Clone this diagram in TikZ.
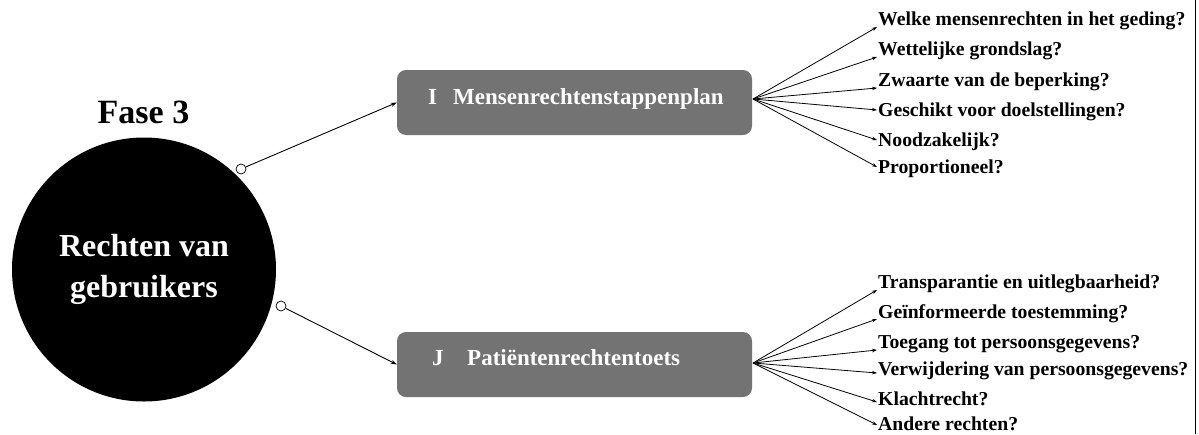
\documentclass[tikz,border=0pt]{standalone}
\usepackage{fontspec}
\setmainfont{Liberation Serif}
\usetikzlibrary{arrows.meta,calc}
\definecolor{boxgray}{RGB}{115,115,115}
\begin{document}
\begin{tikzpicture}[x=1pt,y=-1pt,
  q/.style={anchor=base west,inner sep=0pt,font=\fontsize{19.7}{24}\selectfont\bfseries},
  fanarrow/.style={line width=0.8pt,-{Stealth[length=5pt,width=3.5pt]}},
  mainarrow/.style={line width=0.9pt,-{Stealth[length=6pt,width=4pt]}},
  stagebox/.style={fill=boxgray,rounded corners=9pt,minimum width=355pt,minimum height=65pt,inner sep=0pt},
  boxtext/.style={anchor=base west,inner sep=0pt,text=white,font=\fontsize{23}{27}\selectfont\bfseries},
  hubtext/.style={anchor=base,inner sep=0pt,text=white,font=\fontsize{32}{40}\selectfont\bfseries},
  opendot/.style={circle,draw=black,fill=white,line width=0.7pt,inner sep=0pt,minimum size=10pt}]
\useasboundingbox (0,0) rectangle (1199,434);

% right border line
\draw[line width=1pt] (1195,0) -- (1195,434);

% hub
\node[circle,fill=black,minimum size=264pt,inner sep=0pt] (hub) at (144,269.5) {};
\node[hubtext] (hubA) at (144,256) {Rechten van};
\node[hubtext] (hubB) at (144,297) {gebruikers};
\node[anchor=base,inner sep=0pt,font=\fontsize{34}{40}\selectfont\bfseries] (fase) at (143.5,123) {Fase 3};

% stage boxes
\node[stagebox] (boxI) at (574.5,102.5) {};
\node[boxtext] (letI) at (428,104) {I};
\node[boxtext] (titI) at (453,104) {Mensenrechtenstappenplan};
\node[stagebox] (boxJ) at (574.5,364.5) {};
\node[boxtext] (letJ) at (432,365) {J};
\node[boxtext] (titJ) at (467,365) {Patiëntenrechtentoets};

% connectors hub -> boxes
\node[opendot] (o1) at (241,169) {};
\node[opendot] (o2) at (281,306) {};
\draw[mainarrow] (o1) -- (boxI.west);
\draw[mainarrow] (o2) -- (boxJ.west);

% fan origins
\coordinate (fanI) at (753,99);
\coordinate (fanJ) at (753,363);

% questions I
\foreach \n/\y/\s/\t in {
  a1/25/-2/{Welke mensenrechten in het geding?},
  a2/55/-2/{Wettelijke grondslag?},
  a3/86/-2/{Zwaarte van de beperking?},
  a4/116/6/{Geschikt voor doelstellingen?},
  a5/146/6/{Noodzakelijk?},
  a6/173/6/{Proportioneel?}}{
  \node[q] (\n) at (878,\y) {\t};
  \draw[fanarrow] (fanI) -- ([xshift=-1pt,yshift=\s pt]\n.base west);
}

% questions J
\foreach \n/\y/\s/\t in {
  b1/288/-2/{Transparantie en uitlegbaarheid?},
  b2/318/-1/{Geïnformeerde toestemming?},
  b3/348/-2/{Toegang tot persoonsgegevens?},
  b4/375/2/{Verwijdering van persoonsgegevens?},
  b5/405/3/{Klachtrecht?},
  b6/430/5/{Andere rechten?}}{
  \node[q] (\n) at (878,\y) {\t};
  \draw[fanarrow] (fanJ) -- ([xshift=-1pt,yshift=\s pt]\n.base west);
}
\end{tikzpicture}
\end{document}
